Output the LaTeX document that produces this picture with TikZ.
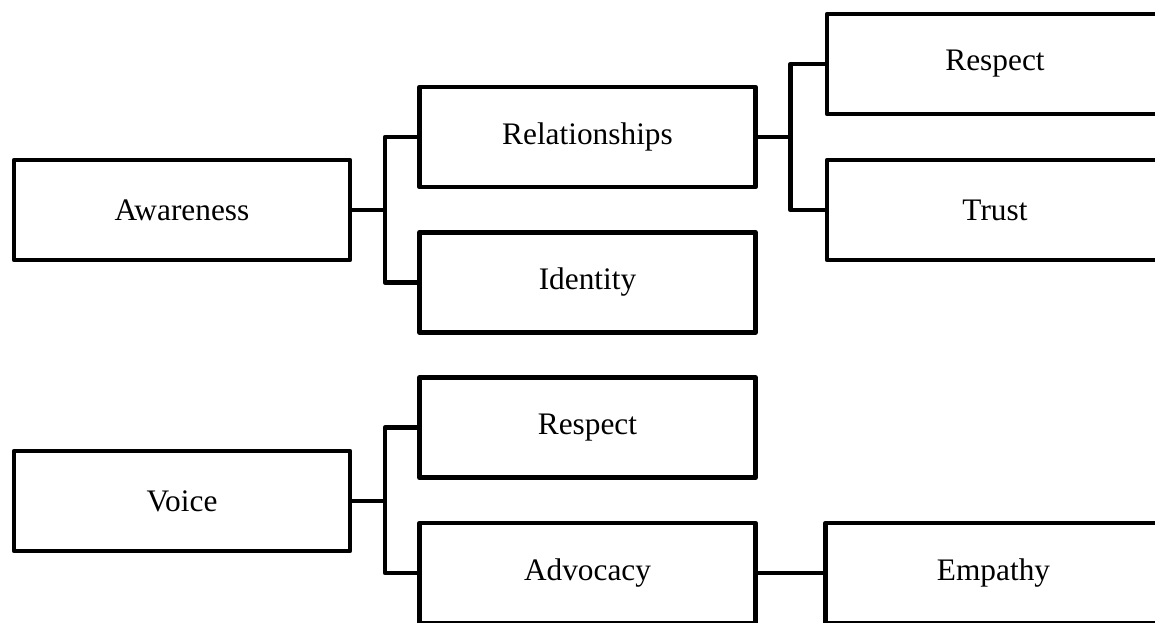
\documentclass[tikz,border=0pt]{standalone}
\usepackage{fontspec}
\setmainfont{Liberation Serif}
\usetikzlibrary{positioning}

\begin{document}
\begin{tikzpicture}[
	x=0.75pt, y=-0.75pt,
	themebox/.style={rectangle, draw=black, line width=3.6pt, line join=round, minimum width=252pt, minimum height=75pt, outer sep=0pt, font=\fontsize{23.5}{28}\selectfont},
	link/.style={line width=3.6pt, line join=round},
	node distance=34pt and 52.5pt
	]
	\useasboundingbox (0,0) rectangle (1155,622);
	\clip (0,0) rectangle (1155,622);
	%Nodes
	\node[themebox](Relationships) at (587.5,137) {Relationships};
	\node[themebox](Identity)[below=of Relationships] {Identity};
	\node[themebox](RespectMid)[below=of Identity] {Respect};
	\node[themebox](Advocacy)[below=of RespectMid] {Advocacy};
	\node[themebox](Awareness) at (182,210) {Awareness};
	\node[themebox](Voice) at (182,501) {Voice};
	\node[themebox](RespectTop) at (995,64) {Respect};
	\node[themebox](Trust) at (995,210) {Trust};
	\node[themebox](Empathy)[right=of Advocacy] {Empathy};
	%Lines
	\draw[link] (Awareness.east) -- ++(35,0) coordinate (AwarenessFork);
	\draw[link] (AwarenessFork) |- (Relationships.west);
	\draw[link] (AwarenessFork) |- (Identity.west);
	\draw[link] (Relationships.east) -- ++(35,0) coordinate (RelationshipsFork);
	\draw[link] (RelationshipsFork) |- (RespectTop.west);
	\draw[link] (RelationshipsFork) |- (Trust.west);
	\draw[link] (Voice.east) -- ++(35,0) coordinate (VoiceFork);
	\draw[link] (VoiceFork) |- (RespectMid.west);
	\draw[link] (VoiceFork) |- (Advocacy.west);
	\draw[link] (Advocacy.east) -- (Empathy.west);
\end{tikzpicture}
\end{document}
